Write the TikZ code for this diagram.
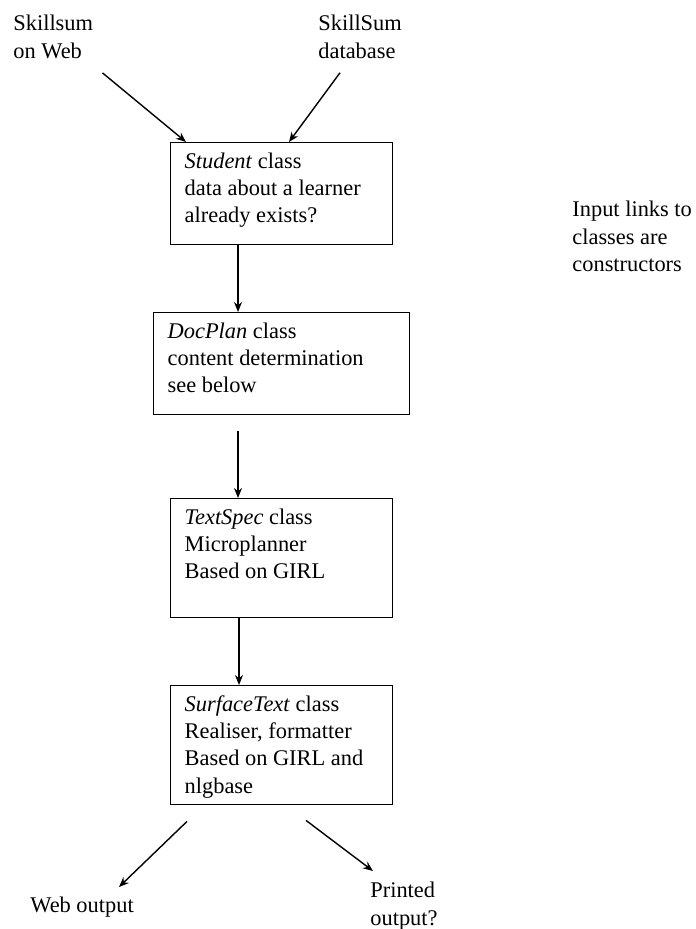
\documentclass[tikz,border=0pt]{standalone}
\usepackage{fontspec}
\setmainfont{Liberation Serif}
\usetikzlibrary{arrows.meta,calc}
\tikzset{every picture/.style={>={Stealth[length=5pt,width=4pt]}},
  txt/.style={font=\fontsize{11.2pt}{13.6pt}\selectfont, inner sep=0pt, align=left, anchor=north west},
  cls/.style={draw, line width=0.7pt, inner xsep=7pt, inner ysep=5pt, anchor=north west,
    font=\fontsize{11.2pt}{13.6pt}\selectfont},
  link/.style={->, line width=0.7pt}}
\newcommand{\clstext}[3]{\parbox[t][#1][t]{#2}{\raggedright #3}}
\begin{document}
\begin{tikzpicture}[x=0.5pt,y=-0.5pt]
  \useasboundingbox (0,0) rectangle (695,929);
  % sources
  \node (web) [txt] at (13,15) {Skillsum\\on Web};
  \node (db) [txt] at (318,15) {SkillSum\\database};
  % classes
  \node (student) [cls] at (170,142) {\clstext{41pt}{97pt}{\textit{Student} class\\data about a learner\\already exists?}};
  \node (docplan) [cls] at (153,312) {\clstext{41pt}{114pt}{\textit{DocPlan} class\\content determination\\see below}};
  \node (textspec) [cls] at (170,498) {\clstext{49.5pt}{97pt}{\textit{TextSpec} class\\Microplanner\\Based on GIRL}};
  \node (surface) [cls] at (170,685) {\clstext{49.5pt}{97pt}{\textit{SurfaceText} class\\Realiser, formatter\\Based on GIRL and\\nlgbase}};
  % outputs and note
  \node (webout) [txt] at (30,897) {Web output};
  \node (printed) [txt] at (370,882) {Printed\\output?};
  \node (note) [txt] at (572,201) {Input links to\\classes are\\constructors};
  \draw [link] ($(web.south east)+(9,14)$) -- ($(student.north west)+(16,0)$);
  \draw [link] ($(db.south west)+(22,14)$) -- ($(student.north west)+(119,0)$);
  \draw [link] ($(student.south west)+(68,0)$) -- ($(docplan.north west)+(85,0)$);
  \draw [link] ($(docplan.south west)+(85,16)$) -- ($(textspec.north west)+(68,0)$);
  \draw [link] ($(textspec.south west)+(69,0)$) -- ($(surface.north west)+(69,0)$);
  \draw [link] ($(surface.south west)+(17,16)$) -- ($(webout.north west)+(89,-10)$);
  \draw [link] ($(surface.south west)+(136,15)$) -- ($(printed.north west)+(3,-11)$);
\end{tikzpicture}
\end{document}
